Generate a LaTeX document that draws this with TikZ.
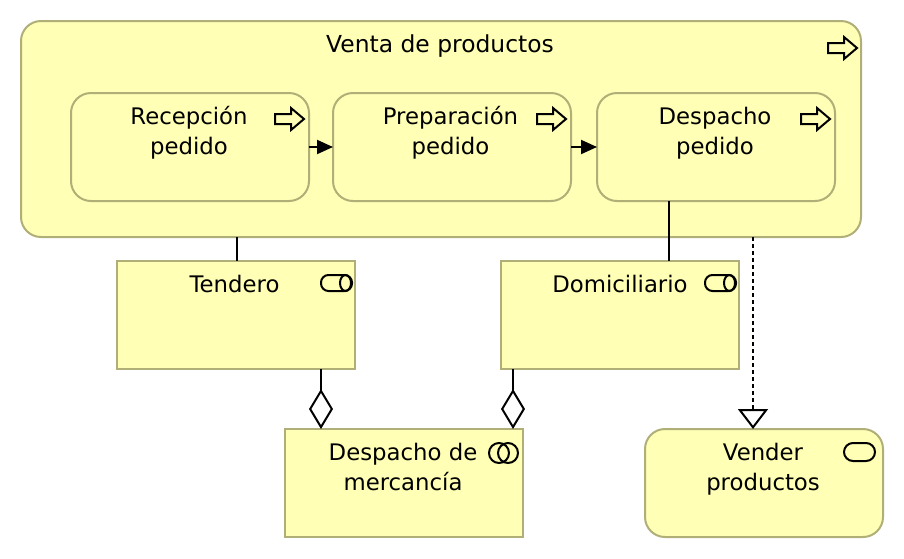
\documentclass[tikz,border=0pt]{standalone}
\usepackage{fontspec}
\setmainfont{DejaVu Sans}
\usetikzlibrary{arrows.meta}
\definecolor{boxfill}{HTML}{FFFFB5}
\definecolor{boxline}{HTML}{B0AF78}
\tikzset{
  elem/.style={draw=boxline,fill=boxfill,line width=2pt,outer sep=0pt,inner sep=0pt,minimum width=238pt,minimum height=108pt},
  roundelem/.style={elem,rounded corners=20pt},
  txt/.style={font=\fontsize{22.8}{30}\selectfont,text=black,align=center,inner sep=0pt,anchor=base},
  icon/.style={draw=black,line width=2pt,fill=none,line join=miter},
  conn/.style={draw=black,line width=2pt},
  pics/processicon/.style={code={
    \draw[icon] (0,-5) -- (16,-5) -- (16,-11) -- (29,0) -- (16,11) -- (16,5) -- (0,5) -- cycle;
  }}
}
\begin{document}
\begin{tikzpicture}[x=1pt,y=-1pt]
\useasboundingbox (0,0) rectangle (904,558);
\fill[white] (0,0) rectangle (904,558);
% boxes
\node[roundelem,minimum width=840pt,minimum height=216pt] (venta) at (441,129) {};
\node[roundelem] (recep) at (190,147) {};
\node[roundelem] (prep) at (452,147) {};
\node[roundelem] (desp) at (716,147) {};
\node[elem] (tend) at (236,315) {};
\node[elem] (domi) at (620,315) {};
\node[elem] (merc) at (404,483) {};
\node[roundelem] (vend) at (764,483) {};
% free connector ends
\coordinate (xa) at (321,0);
\coordinate (xb) at (513,0);
\coordinate (xc) at (669,0);
\coordinate (xd) at (753,0);
\coordinate (xe) at (237,0);
% connectors
\draw[conn,-{Triangle[length=16pt,width=14pt]}] (recep.east) -- (prep.west);
\draw[conn,-{Triangle[length=16pt,width=14pt]}] (prep.east) -- (desp.west);
\draw[conn] (venta.south -| xe) -- (tend.north -| xe);
\draw[conn] (desp.south -| xc) -- (domi.north -| xc);
\draw[conn,-{Diamond[open,length=40pt,width=24pt,fill=white]}] (tend.south -| xa) -- (merc.north -| xa);
\draw[conn,-{Diamond[open,length=40pt,width=24pt,fill=white]}] (domi.south -| xb) -- (merc.north -| xb);
\draw[conn,dash pattern=on 4pt off 3pt,-{Triangle[open,length=20pt,width=30pt,fill=white]}] (venta.south -| xd) -- (vend.north -| xd);
% texts
\node[txt,font=\fontsize{23.4}{30}\selectfont] (t1) at (440,52) {Venta de productos};
\node[txt] (t2) at (189,154) {Recepción\\pedido};
\node[txt] (t3) at (450.5,154) {Preparación\\pedido};
\node[txt] (t4) at (715,154) {Despacho\\pedido};
\node[txt] (t5) at (234.5,292) {Tendero};
\node[txt] (t6) at (620,292) {Domiciliario};
\node[txt] (t7) at (403,490) {Despacho de\\mercancía};
\node[txt] (t8) at (763,490) {Vender\\productos};
% icons
\pic at (828,48) {processicon};
\pic at (275,119) {processicon};
\pic at (537,119) {processicon};
\pic at (801,119) {processicon};
\draw[icon,rounded corners=7.5pt] (321,275) rectangle (352,291);
\draw[icon] (345.5,283) ellipse (5.5pt and 8pt);
\draw[icon,rounded corners=7.5pt] (705,275) rectangle (736,291);
\draw[icon] (729.5,283) ellipse (5.5pt and 8pt);
\draw[icon] (499,453) circle (10pt);
\draw[icon] (508,453) circle (10pt);
\draw[icon,rounded corners=9pt] (844,443) rectangle (875,461);
\end{tikzpicture}
\end{document}
